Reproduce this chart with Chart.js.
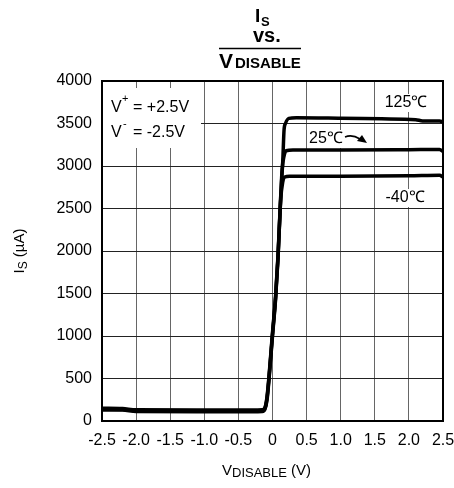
<!DOCTYPE html>
<html>
<head>
<meta charset="utf-8">
<script src="https://cdn.jsdelivr.net/npm/chart.js@4"></script>
<style>
  html, body { margin: 0; padding: 0; background: #fff; }
  #wrap { width: 454px; height: 488px; position: relative; }
</style>
</head>
<body>
<div id="wrap"><canvas id="isChart"></canvas></div>
<script>
// V_DISABLE (V) and supply current (uA) per temperature
const vMinus40 = [-2.5, -2.2, -2.0, -1.0, -0.3, -0.15, -0.11, -0.08, -0.05, -0.02, 0.0, 0.045, 0.08, 0.12, 0.15, 0.18, 0.25, 1.0, 2.0, 2.45, 2.5];
const iMinus40 = [130, 128, 112, 110, 110, 112, 140, 250, 500, 800, 1000, 1430, 1900, 2600, 2810, 2870, 2880, 2880, 2885, 2892, 2870];

const v25 = [-2.5, -2.2, -2.0, -1.0, -0.3, -0.15, -0.11, -0.08, -0.05, -0.02, 0.0, 0.045, 0.08, 0.12, 0.14, 0.17, 0.2, 0.3, 1.0, 2.0, 2.45, 2.5];
const i25 = [140, 136, 122, 120, 120, 122, 150, 270, 520, 820, 1020, 1450, 1920, 2620, 2950, 3120, 3180, 3188, 3188, 3192, 3195, 3170];

const v125 = [-2.5, -2.2, -2.0, -1.0, -0.3, -0.15, -0.11, -0.08, -0.05, -0.02, 0.0, 0.045, 0.08, 0.12, 0.15, 0.17, 0.19, 0.24, 0.35, 1.0, 1.6, 2.1, 2.2, 2.45, 2.5];
const i125 = [150, 146, 132, 130, 130, 132, 160, 290, 540, 840, 1040, 1470, 1940, 2640, 3050, 3430, 3500, 3560, 3568, 3562, 3555, 3545, 3530, 3528, 3520];

const yTicks = [0, 500, 1000, 1500, 2000, 2500, 3000, 3500, 4000];
const xTicks = [-2.5, -2.0, -1.5, -1.0, -0.5, 0, 0.5, 1.0, 1.5, 2.0, 2.5];

const toPoints = (xs, ys) => xs.map((x, i) => ({ x: x, y: ys[i] }));

const FONT = 'Arial, "Liberation Sans", sans-serif';

// text, subscripts, labels and the frame
const decorations = {
    id: 'decorations',
    afterDatasetsDraw(chart) {
        const ctx = chart.ctx;
        const a = chart.chartArea;
        ctx.save();

        // frame
        ctx.strokeStyle = '#000';
        ctx.lineWidth = 2;
        ctx.strokeRect(a.left, a.top, a.right - a.left, a.bottom - a.top);

        // supply box
        ctx.fillStyle = '#fff';
        ctx.fillRect(a.left + 1, 88, 98, 60);
        ctx.fillStyle = '#000';
        ctx.textBaseline = 'alphabetic';
        ctx.textAlign = 'left';
        ctx.font = '16px ' + FONT;
        ctx.fillText('V', 111, 112);
        ctx.font = '11px ' + FONT;
        ctx.fillText('+', 122, 102);
        ctx.font = '16px ' + FONT;
        ctx.fillText('= +2.5V', 133, 112);
        ctx.fillText('V', 111, 137);
        ctx.font = '11px ' + FONT;
        ctx.fillText('-', 123, 127);
        ctx.font = '16px ' + FONT;
        ctx.fillText('= -2.5V', 133, 137);

        // temperature labels with white backing
        const label = (txt, cx, cy) => {
            ctx.font = '16px ' + FONT;
            const w = ctx.measureText(txt).width;
            ctx.fillStyle = '#fff';
            ctx.fillRect(cx - w / 2 - 2, cy - 9, w + 4, 18);
            ctx.fillStyle = '#000';
            ctx.textAlign = 'center';
            ctx.textBaseline = 'middle';
            ctx.fillText(txt, cx, cy);
        };
        label('125\u2103', 406, 103);
        label('25\u2103', 326, 139);
        label('-40\u2103', 405, 198);

        // arrow from 25C label
        ctx.strokeStyle = '#000';
        ctx.lineWidth = 1.5;
        ctx.beginPath();
        ctx.moveTo(345, 137);
        ctx.quadraticCurveTo(352, 134, 360, 139);
        ctx.stroke();
        ctx.beginPath();
        ctx.moveTo(367, 143);
        ctx.lineTo(357, 141);
        ctx.lineTo(362, 135);
        ctx.closePath();
        ctx.fill();

        // chart title
        ctx.textAlign = 'left';
        ctx.textBaseline = 'alphabetic';
        ctx.font = 'bold 19px ' + FONT;
        ctx.fillText('I', 255, 22);
        ctx.font = 'bold 13px ' + FONT;
        ctx.fillText('S', 261, 26);
        ctx.font = 'bold 20px ' + FONT;
        ctx.fillText('vs.', 253, 42);
        ctx.font = 'bold 21px ' + FONT;
        ctx.fillText('V', 219, 68);
        ctx.font = 'bold 15px ' + FONT;
        ctx.fillText('DISABLE', 235, 68);
        ctx.lineWidth = 1.5;
        ctx.beginPath();
        ctx.moveTo(219, 48.5);
        ctx.lineTo(301, 48.5);
        ctx.stroke();

        // x axis title
        ctx.font = '15px ' + FONT;
        ctx.fillText('V', 222, 475);
        ctx.font = '13px ' + FONT;
        ctx.fillText('DISABLE', 232, 477);
        const wSub = ctx.measureText('DISABLE').width;
        ctx.font = '15px ' + FONT;
        ctx.fillText(' (V)', 232 + wSub, 475);

        // y axis title
        ctx.translate(24, (a.top + a.bottom) / 2);
        ctx.rotate(-Math.PI / 2);
        ctx.textAlign = 'left';
        ctx.font = '15px ' + FONT;
        const w1 = ctx.measureText('I').width;
        ctx.font = '12px ' + FONT;
        const w2 = ctx.measureText('S').width;
        ctx.font = '15px ' + FONT;
        const w3 = ctx.measureText(' (\u00b5A)').width;
        const x0 = -(w1 + w2 + w3) / 2;
        ctx.fillText('I', x0, 0);
        ctx.font = '12px ' + FONT;
        ctx.fillText('S', x0 + w1, 3);
        ctx.font = '15px ' + FONT;
        ctx.fillText(' (\u00b5A)', x0 + w1 + w2, 0);

        ctx.restore();
    }
};

const seriesStyle = {
    borderColor: '#000',
    backgroundColor: '#000',
    borderWidth: 3.5,
    pointRadius: 0,
    showLine: true,
    cubicInterpolationMode: 'monotone'
};

new Chart(document.getElementById('isChart'), {
    type: 'scatter',
    data: {
        datasets: [
            Object.assign({ label: '-40\u2103', data: toPoints(vMinus40, iMinus40) }, seriesStyle),
            Object.assign({ label: '25\u2103', data: toPoints(v25, i25) }, seriesStyle),
            Object.assign({ label: '125\u2103', data: toPoints(v125, i125) }, seriesStyle)
        ]
    },
    options: {
        responsive: true,
        maintainAspectRatio: false,
        animation: false,
        layout: { padding: { top: 81, right: 11, left: 0, bottom: 0 } },
        plugins: {
            legend: { display: false },
            tooltip: { enabled: false }
        },
        scales: {
            x: {
                type: 'linear',
                min: -2.5,
                max: 2.5,
                afterBuildTicks: (s) => { s.ticks = xTicks.map(v => ({ value: v })); },
                afterFit: (s) => { s.height = 67; s.paddingLeft = 0; s.paddingRight = 0; },
                grid: { color: '#666', lineWidth: 1, drawTicks: false },
                border: { color: '#000', width: 2 },
                ticks: {
                    color: '#000',
                    padding: 10,
                    maxRotation: 0,
                    autoSkip: false,
                    font: { family: FONT, size: 16 },
                    callback: (v) => (v === 0 ? '0' : (Math.round(v * 10) / 10).toFixed(1))
                }
            },
            y: {
                min: 0,
                max: 4000,
                afterBuildTicks: (s) => { s.ticks = yTicks.map(v => ({ value: v })); },
                afterFit: (s) => { s.width = 102; s.paddingTop = 0; s.paddingBottom = 0; },
                grid: { color: '#222', lineWidth: 1, drawTicks: false },
                border: { color: '#000', width: 2 },
                ticks: {
                    color: '#000',
                    padding: 10,
                    autoSkip: false,
                    font: { family: FONT, size: 16 },
                    callback: (v) => String(v)
                }
            }
        }
    },
    plugins: [decorations]
});
</script>
</body>
</html>
